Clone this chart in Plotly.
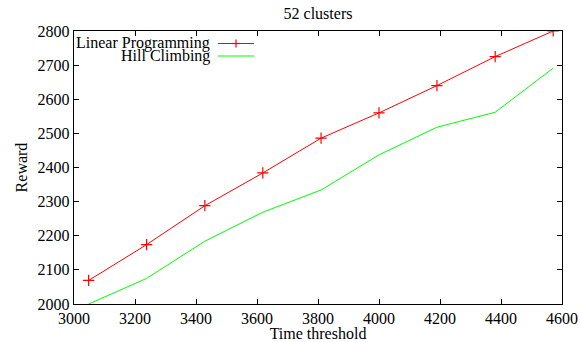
import plotly.graph_objects as go

time_threshold = [3048, 3238, 3429, 3619, 3810, 4000, 4190, 4381, 4571]
linear_programming = [2069, 2174, 2288, 2384, 2486, 2560, 2640, 2725, 2800]
hill_climbing = [2000, 2075, 2184, 2269, 2334, 2437, 2518, 2562, 2691]
series_names = ["Linear Programming", "Hill Climbing"]
x_ticks = [3000, 3200, 3400, 3600, 3800, 4000, 4200, 4400, 4600]
y_ticks = [2000, 2100, 2200, 2300, 2400, 2500, 2600, 2700, 2800]

RED = "#ff0000"
GREEN = "#00ff00"
FONT = "Liberation Serif"

fig = go.Figure()
fig.add_trace(go.Scatter(
    x=time_threshold, y=linear_programming, mode="lines+markers",
    name=series_names[0], line=dict(color=RED, width=1),
    marker=dict(symbol="cross-thin", size=8, line=dict(color=RED, width=1.2)),
    showlegend=False, cliponaxis=True))
fig.add_trace(go.Scatter(
    x=time_threshold, y=hill_climbing, mode="lines",
    name=series_names[1], line=dict(color=GREEN, width=1),
    showlegend=False, cliponaxis=True))

L, R, T, B = 74, 18, 31, 38
W, H = 580, 342
pw, ph = W - L - R, H - T - B

def px(x):
    return (x - L) / pw

def py(y):
    return (H - B - y) / ph

# manual gnuplot-style legend (text right-aligned, sample to the right)
legend_rows = [(series_names[0], RED, 43.5), (series_names[1], GREEN, 56)]
for name, col, yy in legend_rows:
    fig.add_annotation(x=px(212), y=py(yy), xref="paper", yref="paper",
                       text=name, showarrow=False, xanchor="right", yanchor="middle",
                       font=dict(family=FONT, size=16, color="black"))
    fig.add_shape(type="line", xref="paper", yref="paper",
                  x0=px(218), x1=px(254), y0=py(yy), y1=py(yy),
                  line=dict(color=col, width=1))
# plus marker on the red legend sample
fig.add_shape(type="line", xref="paper", yref="paper",
              x0=px(236), x1=px(236), y0=py(43.5 - 4), y1=py(43.5 + 4),
              line=dict(color=RED, width=1.2))
fig.add_shape(type="line", xref="paper", yref="paper",
              x0=px(232), x1=px(240), y0=py(43.5), y1=py(43.5),
              line=dict(color=RED, width=1.2))

axis_common = dict(showgrid=False, zeroline=False, showline=True, mirror="allticks",
                   linecolor="black", linewidth=1.2, ticks="inside", ticklen=5,
                   tickcolor="black", tickwidth=1, automargin=False,
                   tickfont=dict(family=FONT, size=16, color="black"))

fig.update_layout(
    width=W, height=H,
    margin=dict(l=L, r=R, t=T, b=B, autoexpand=False),
    paper_bgcolor="white", plot_bgcolor="white",
    font=dict(family=FONT, size=16, color="black"),
    title=dict(text="52 clusters", x=0.5 * (L + W - R) / W, xanchor="center",
               xref="container", yref="container",
               y=1 - 13 / H, yanchor="middle", font=dict(family=FONT, size=16),
               automargin=False),
    xaxis=dict(range=[3000, 4600], tickvals=x_ticks, ticktext=[str(v) for v in x_ticks],
               title=dict(text="Time threshold", standoff=2, font=dict(family=FONT, size=16)),
               **axis_common),
    yaxis=dict(range=[2000, 2800], tickvals=y_ticks, ticktext=[str(v) for v in y_ticks],
               title=dict(text="Reward", standoff=6, font=dict(family=FONT, size=16)),
               **axis_common),
)

fig.write_html("out.html", config={"displayModeBar": False, "staticPlot": True},
               post_script="document.body.style.margin='0';document.body.style.padding='0';document.body.style.overflow='hidden';")
